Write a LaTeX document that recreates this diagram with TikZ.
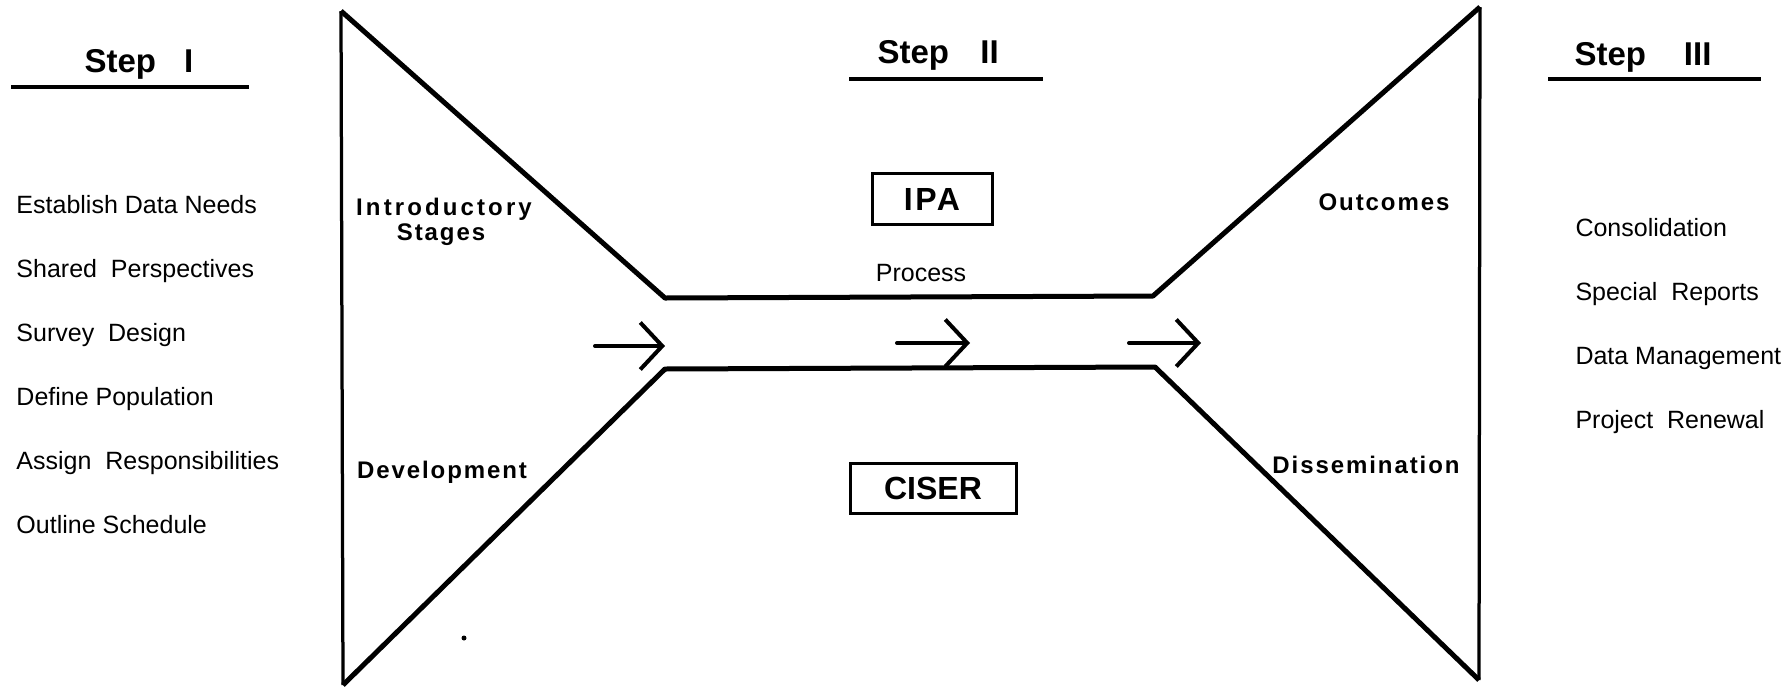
\documentclass[tikz,border=0pt]{standalone}
\usepackage{fontspec}
\setmainfont{Liberation Sans}
\newfontfamily\spacedfont[LetterSpace=8]{Liberation Sans}
\newfontfamily\widefont[LetterSpace=13]{Liberation Sans}
\usetikzlibrary{arrows.meta}

\tikzset{
  funnel/.style={line width=2pt,line join=round},
  side/.style={line width=1.3pt},
  rule/.style={line width=1.3pt},
  flow/.style={line width=1.6pt,line cap=round,-{Straight Barb[length=8.8pt,width=18.8pt]}},
  item/.style={anchor=base west,inner sep=0pt,font=\fontsize{10pt}{12pt}\selectfont},
  head/.style={anchor=base west,inner sep=0pt,font=\fontsize{13.2pt}{16pt}\selectfont\bfseries},
  phase/.style={anchor=base,inner sep=0pt,font=\fontsize{9.6pt}{12pt}\spacedfont\bfseries},
  tag/.style={draw,line width=1.2pt,inner sep=0pt,font=\fontsize{12.8pt}{15pt}\selectfont\bfseries}
}

\begin{document}
\begin{tikzpicture}[x=0.4pt,y=-0.4pt]
\useasboundingbox (0,0) rectangle (1782,688);

\node[head] (stepI) at (84,72) {Step\hspace{0.85em}I};
\node[head] (stepII) at (877,63) {Step\hspace{0.95em}II};
\node[head] (stepIII) at (1574,65) {Step\hspace{1.15em}III};
\draw[rule] (11,87) -- (249,87);
\draw[rule] (849,79) -- (1043,79);
\draw[rule] (1548,79) -- (1761,79);

\foreach \t [count=\i] in {Establish Data Needs,Shared~ Perspectives,Survey~ Design,Define Population,Assign~ Responsibilities,Outline Schedule}{
	\node[item] (s\i) at (16,{149+64*\i}) {\t};
}
\foreach \t [count=\i] in {Consolidation,Special~ Reports,Data Management,Project~ Renewal}{
	\node[item] (r\i) at (1575,{172+64*\i}) {\t};
}

\coordinate (tl) at (341,11);
\coordinate (bl) at (343,685);
\coordinate (tr) at (1480,7);
\coordinate (br) at (1479,680);
\coordinate (nw) at (665,298);
\coordinate (ne) at (1153,296);
\coordinate (sw) at (665,369);
\coordinate (se) at (1155,367);

\draw[funnel] (tl) -- (nw) -- (ne) -- (tr);
\draw[funnel] (bl) -- (sw) -- (se) -- (br);
\draw[side] (tl) -- (bl);
\draw[side] (tr) -- (br);

\node[phase] (intro) at (444,215) {\widefont\bfseries Introductory};
\node[phase] (stages) at (441,240) {Stages};
\node[phase] (devel) at (442,478) {Development};
\node[phase] (outc) at (1384,210) {Outcomes};
\node[phase] (dissem) at (1366,473) {Dissemination};

\node[tag,minimum width=48pt,minimum height=20.4pt] (ipa) at (932,199) {\spacedfont IPA};
\node[item,anchor=base] (proc) at (921,281) {Process};
\node[tag,minimum width=66.4pt,minimum height=20pt] (ciser) at (933,488) {CISER};

\coordinate (a1) at (595,346);
\coordinate (b1) at (665,346);
\coordinate (a2) at (897,343);
\coordinate (b2) at (970,343);
\coordinate (a3) at (1129,343);
\coordinate (b3) at (1201,343);
\foreach \k in {1,2,3}{
	\draw[flow] (a\k) -- (b\k);
}

\fill (464,638) circle[radius=2.5];
\end{tikzpicture}
\end{document}
